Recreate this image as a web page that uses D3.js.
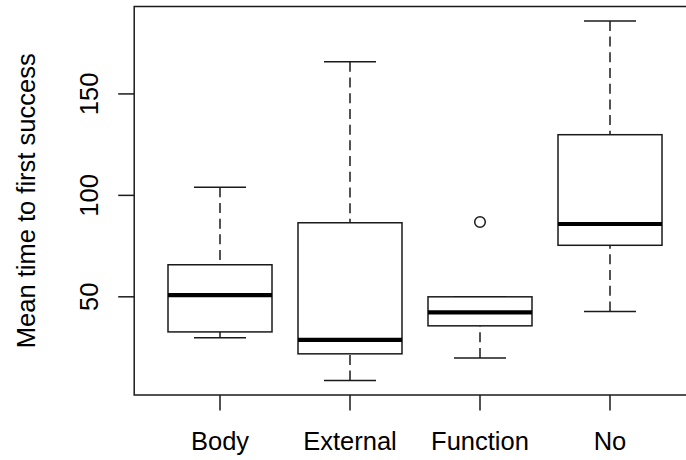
<!DOCTYPE html>
<html>
<head>
<meta charset="utf-8">
<script src="https://cdn.jsdelivr.net/npm/d3@7"></script>
<style>
  html, body { margin: 0; padding: 0; background: #fff; }
  svg { display: block; }
  text { font-family: "Liberation Sans", Arial, Helvetica, sans-serif; fill: #000; }
</style>
</head>
<body>
<svg id="chart" width="686" height="460"></svg>
<script>
// ---- data ----
const categories  = ["Body", "External", "Function", "No"];
const whiskerLow  = [29.8, 8.7, 19.9, 42.8];
const q1          = [32.7, 21.9, 35.7, 75.4];
const median      = [50.8, 28.8, 42.3, 85.9];
const q3          = [65.8, 86.5, 50.0, 129.9];
const whiskerHigh = [104.0, 165.8, 50.0, 186.0];
const outliers    = [[], [], [86.9], []];
const yTicks      = [50, 100, 150];
const yTitle      = "Mean time to first success";

// ---- layout ----
const W = 686, H = 460;
const plot = { left: 134.2, right: 695.8, top: 6.5, bottom: 395 };
const fontSize = 25.5;
const lineCol = "#1a1a1a";

const svg = d3.select("#chart");

// y domain like R: data range extended by 4%
const allVals = whiskerLow.concat(whiskerHigh, outliers.flat());
const lo = d3.min(allVals), hi = d3.max(allVals);
const pad = (hi - lo) * 0.04;
const y = d3.scaleLinear().domain([lo - pad, hi + pad]).range([plot.bottom, plot.top]);

const n = categories.length;
const xPad = n * 0.04;
const x = d3.scaleLinear().domain([0.5 - xPad, n + 0.5 + xPad]).range([plot.left, plot.right]);

const boxHalf = 0.4, capHalf = 0.2;

const data = categories.map((c, i) => ({
  cat: c, pos: i + 1,
  wl: whiskerLow[i], q1: q1[i], med: median[i], q3: q3[i], wh: whiskerHigh[i],
  out: outliers[i]
}));

const g = svg.append("g");

data.forEach(d => {
  // whiskers (dashed)
  [[d.wl, d.q1], [d.wh, d.q3]].forEach(([a, b]) => {
    if (a === b) return;
    g.append("line")
      .attr("x1", x(d.pos)).attr("x2", x(d.pos))
      .attr("y1", y(a)).attr("y2", y(b))
      .attr("stroke", lineCol).attr("stroke-width", 1.5)
      .attr("stroke-dasharray", "10,5.7");
  });
  // caps
  [d.wl, d.wh].forEach(v => {
    g.append("line")
      .attr("x1", x(d.pos - capHalf)).attr("x2", x(d.pos + capHalf))
      .attr("y1", y(v)).attr("y2", y(v))
      .attr("stroke", lineCol).attr("stroke-width", 1.5);
  });
  // box
  g.append("rect")
    .attr("x", x(d.pos - boxHalf)).attr("width", x(d.pos + boxHalf) - x(d.pos - boxHalf))
    .attr("y", y(d.q3)).attr("height", y(d.q1) - y(d.q3))
    .attr("fill", "#fff").attr("stroke", lineCol).attr("stroke-width", 1.5);
  // median
  g.append("line")
    .attr("x1", x(d.pos - boxHalf)).attr("x2", x(d.pos + boxHalf))
    .attr("y1", y(d.med)).attr("y2", y(d.med))
    .attr("stroke", "#000").attr("stroke-width", 4.2);
  // outliers
  d.out.forEach(v => {
    g.append("circle")
      .attr("cx", x(d.pos)).attr("cy", y(v)).attr("r", 5.3)
      .attr("fill", "none").attr("stroke", lineCol).attr("stroke-width", 1.5);
  });
});

// frame
svg.append("rect")
  .attr("x", plot.left).attr("y", plot.top)
  .attr("width", plot.right - plot.left).attr("height", plot.bottom - plot.top)
  .attr("fill", "none").attr("stroke", lineCol).attr("stroke-width", 1.5);

// y axis
const yAxis = svg.append("g");
yTicks.forEach(t => {
  yAxis.append("line")
    .attr("x1", plot.left - 16).attr("x2", plot.left)
    .attr("y1", y(t)).attr("y2", y(t))
    .attr("stroke", lineCol).attr("stroke-width", 1.5);
  yAxis.append("text")
    .attr("transform", `translate(98,${y(t)}) rotate(-90)`)
    .attr("text-anchor", "middle")
    .attr("font-size", fontSize)
    .text(t);
});

// x axis
const xAxis = svg.append("g");
data.forEach(d => {
  xAxis.append("line")
    .attr("x1", x(d.pos)).attr("x2", x(d.pos))
    .attr("y1", plot.bottom).attr("y2", plot.bottom + 15.5)
    .attr("stroke", lineCol).attr("stroke-width", 1.5);
  xAxis.append("text")
    .attr("x", x(d.pos)).attr("y", 449.5)
    .attr("text-anchor", "middle")
    .attr("font-size", fontSize)
    .text(d.cat);
});

// y title
svg.append("text")
  .attr("transform", `translate(35,${(plot.top + plot.bottom) / 2}) rotate(-90)`)
  .attr("text-anchor", "middle")
  .attr("font-size", fontSize)
  .text(yTitle);
</script>
</body>
</html>
